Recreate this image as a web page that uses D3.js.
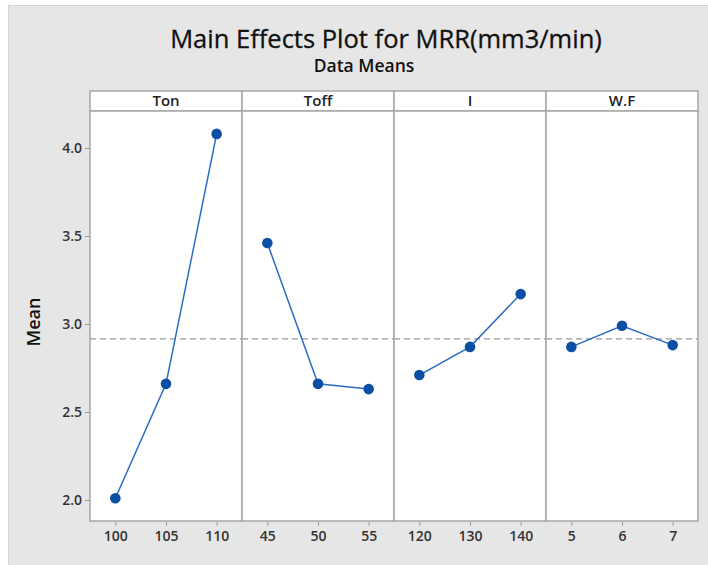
<!DOCTYPE html>
<html>
<head>
<meta charset="utf-8">
<script src="https://cdn.jsdelivr.net/npm/d3@7"></script>
<style>
  body { margin: 0; background: #fff; }
  text { font-family: "Open Sans", "Noto Sans", sans-serif; }
</style>
</head>
<body>
<svg id="chart" width="708" height="565"></svg>
<script>
// factors and their levels
var factors = ["Ton", "Toff", "I", "W.F"];
var tonLevels = ["100", "105", "110"];
var toffLevels = ["45", "50", "55"];
var iLevels = ["120", "130", "140"];
var wfLevels = ["5", "6", "7"];
// data means
var tonMeans = [2.01, 2.66, 4.08];
var toffMeans = [3.46, 2.66, 2.63];
var iMeans = [2.71, 2.87, 3.17];
var wfMeans = [2.87, 2.99, 2.88];
var grandMean = 2.915;
var yTicks = [2.0, 2.5, 3.0, 3.5, 4.0];

var levels = [tonLevels, toffLevels, iLevels, wfLevels];
var means = [tonMeans, toffMeans, iMeans, wfMeans];

var svg = d3.select("#chart");
var W = 708, H = 565;
var plotL = 90, plotR = 698, plotT = 111, plotB = 521, headerH = 20;
var panelW = (plotR - plotL) / factors.length;

// gray backdrop
svg.append("rect").attr("x", 8.5).attr("y", 5.5).attr("width", W - 8).attr("height", H - 5)
    .attr("fill", "#e6e6e6").attr("stroke", "#d4d4d4");

// titles
svg.append("text").attr("x", 386).attr("y", 48).attr("text-anchor", "middle")
    .style("font-size", "25.5px").attr("fill", "#111").attr("stroke", "#111").attr("stroke-width", 0.3)
    .text("Main Effects Plot for MRR(mm3/min)");
svg.append("text").attr("x", 364).attr("y", 72).attr("text-anchor", "middle")
    .style("font-size", "17.5px").style("font-weight", 600).attr("fill", "#111")
    .text("Data Means");

var y = d3.scaleLinear().domain([2.0, 4.0]).range([500, 148]);

// y axis
var yAxis = svg.append("g").attr("transform", "translate(" + plotL + ",0)")
    .call(d3.axisLeft(y).tickValues(yTicks).tickFormat(d3.format(".1f")).tickSize(5).tickPadding(3));
yAxis.select(".domain").remove();
yAxis.selectAll(".tick line").attr("stroke", "#999");
yAxis.selectAll(".tick text").attr("fill", "#333")
    .style("font-size", "14px").style("font-weight", 600).style("font-family", "Open Sans");

svg.append("text").attr("transform", "translate(40,322) rotate(-90)")
    .attr("text-anchor", "middle").style("font-size", "18px").style("font-weight", 600)
    .attr("fill", "#111").text("Mean");

factors.forEach(function (f, i) {
    var x0 = plotL + i * panelW;
    var g = svg.append("g");
    // header strip
    g.append("rect").attr("x", x0).attr("y", plotT - headerH).attr("width", panelW).attr("height", headerH)
        .attr("fill", "#fff").attr("stroke", "#a6a6a6").attr("stroke-width", 1.5);
    g.append("text").attr("x", x0 + panelW / 2).attr("y", plotT - 5).attr("text-anchor", "middle")
        .style("font-size", "15px").style("font-weight", 600).attr("fill", "#222").text(f);
    // panel body
    g.append("rect").attr("x", x0).attr("y", plotT).attr("width", panelW).attr("height", plotB - plotT)
        .attr("fill", "#fff").attr("stroke", "#a6a6a6").attr("stroke-width", 1.5);

    var x = d3.scalePoint().domain(levels[i]).range([x0, x0 + panelW]).padding(0.5);

    var xAxis = svg.append("g").attr("transform", "translate(0," + (plotB + 0.75) + ")")
        .call(d3.axisBottom(x).tickSize(4).tickPadding(5));
    xAxis.select(".domain").remove();
    xAxis.selectAll(".tick line").attr("stroke", "#999");
    xAxis.selectAll(".tick text").attr("fill", "#333")
        .style("font-size", "14px").style("font-weight", 600).style("font-family", "Open Sans");

    // grand mean reference
    g.append("line").attr("x1", x0).attr("x2", x0 + panelW)
        .attr("y1", y(grandMean)).attr("y2", y(grandMean))
        .attr("stroke", "#9a9a9a").attr("stroke-width", 1.3).attr("stroke-dasharray", "6,4");

    var pts = levels[i].map(function (l, j) { return [x(l), y(means[i][j])]; });
    g.append("path").attr("d", d3.line()(pts)).attr("fill", "none")
        .attr("stroke", "#2a6cc4").attr("stroke-width", 1.5);
    g.selectAll("circle").data(pts).enter().append("circle")
        .attr("cx", function (d) { return d[0]; }).attr("cy", function (d) { return d[1]; })
        .attr("r", 5.3).attr("fill", "#0a4fa3");
});
</script>
</body>
</html>
